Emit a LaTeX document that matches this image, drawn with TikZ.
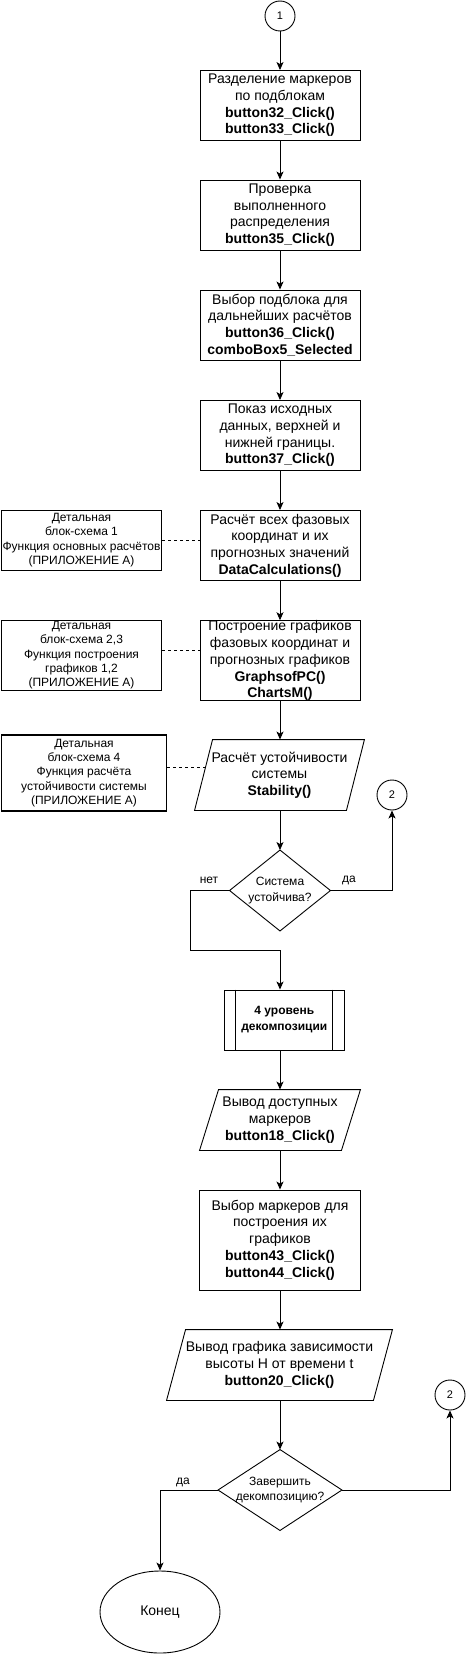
\documentclass[tikz,border=0pt]{standalone}
\usepackage{fontspec}
\setmainfont{Liberation Sans}
\usetikzlibrary{arrows.meta,shapes.geometric,calc}
\begin{document}
\begin{tikzpicture}[x=1pt,y=-1pt,line width=0.9pt,
  arr/.style={-{Stealth[length=8pt,width=7pt,inset=2pt]}},
  dsh/.style={dash pattern=on 3pt off 3pt},
  proc/.style={draw, rectangle, minimum width=160pt, minimum height=70pt, inner sep=0pt, align=center, font=\fontsize{14}{16.7}\selectfont},
  para/.style={rectangle, inner sep=0pt, align=center, font=\fontsize{14}{16.7}\selectfont},
  dia/.style={rectangle, inner sep=0pt, align=center, font=\fontsize{12}{15.5}\selectfont},
  note/.style={draw, rectangle, line width=1.6pt, inner sep=0pt, align=center, font=\fontsize{12}{14.4}\selectfont},
  conn/.style={draw, circle, minimum size=30pt, inner sep=0pt, font=\fontsize{11}{13}\selectfont},
  lbl/.style={inner sep=0pt, font=\fontsize{12}{14}\selectfont}]
\useasboundingbox (0,0) rectangle (467,1654);

% connectors (circles)
\node[conn] (c1) at (280,16) {1};
\node[conn] (c2a) at (392,795) {2};
\node[conn] (c2b) at (450,1395) {2};

% main boxes
\node[proc] (b1) at (280,105.5) {Разделение маркеров\\по подблокам\\\textbf{button32\_Click()}\\\textbf{button33\_Click()}};
\node[proc] (b2) at (280,215) {Проверка\\выполненного\\распределения\\\textbf{button35\_Click()}};
\node[proc] (b3) at (280,325) {Выбор подблока для\\дальнейших расчётов\\\textbf{button36\_Click()}\\\textbf{comboBox5\_Selected}};
\node[proc] (b4) at (280,435.5) {Показ исходных\\данных, верхней и\\нижней границы.\\\textbf{button37\_Click()}};
\node[proc] (b5) at (280,545.5) {Расчёт всех фазовых\\координат и их\\прогнозных значений\\\textbf{DataCalculations()}};
\node[proc, minimum height=80pt] (b6) at (280,660.7) {Построение графиков\\фазовых координат и\\прогнозных графиков\\\textbf{GraphsofPC()}\\\textbf{ChartsM()}};

% parallelogram 1
\node[para, minimum width=151pt, minimum height=70pt] (p1) at (279.5,775) {Расчёт устойчивости\\системы\\\textbf{Stability()}};
\draw ([xshift=9pt]p1.north west) -- ([xshift=9pt]p1.north east) -- ([xshift=-9pt]p1.south east) -- ([xshift=-9pt]p1.south west) -- cycle;
\coordinate (p1l) at ($([xshift=9pt]p1.north west)!0.38!([xshift=-9pt]p1.south west)$);

% diamond 1
\node[dia, minimum width=100pt, minimum height=80pt] (d1) at (280,890.5) {Система\\устойчива?};
\draw (d1.north) -- (d1.east) -- (d1.south) -- (d1.west) -- cycle;

% predefined process
\node[proc, minimum width=120pt, minimum height=60pt, font=\bfseries\fontsize{12}{16}\selectfont] (b8) at (284.3,1020) {4 уровень\\декомпозиции};
\draw ([xshift=12pt]b8.north west) -- ([xshift=12pt]b8.south west);
\draw ([xshift=-12pt]b8.north east) -- ([xshift=-12pt]b8.south east);

% parallelogram 2
\node[para, minimum width=141pt, minimum height=60pt] (p2) at (280,1120) {Вывод доступных\\маркеров\\\textbf{button18\_Click()}};
\draw ([xshift=9.5pt]p2.north west) -- ([xshift=9.5pt]p2.north east) -- ([xshift=-9.5pt]p2.south east) -- ([xshift=-9.5pt]p2.south west) -- cycle;

% box 7
\node[proc, minimum width=161pt, minimum height=100pt] (b7) at (280,1240) {Выбор маркеров для\\построения их\\графиков\\\textbf{button43\_Click()}\\\textbf{button44\_Click()}};

% parallelogram 3
\node[para, minimum width=206pt, minimum height=70pt] (p3) at (279.5,1365) {Вывод графика зависимости\\высоты H от времени t\\\textbf{button20\_Click()}};
\draw ([xshift=9.5pt]p3.north west) -- ([xshift=9.5pt]p3.north east) -- ([xshift=-9.5pt]p3.south east) -- ([xshift=-9.5pt]p3.south west) -- cycle;

% diamond 2
\node[dia, minimum width=123pt, minimum height=80pt] (d2) at (280,1490) {Завершить\\декомпозицию?};
\draw (d2.north) -- (d2.east) -- (d2.south) -- (d2.west) -- cycle;

% end
\node[draw, ellipse, minimum width=120pt, minimum height=82pt, inner sep=0pt, font=\fontsize{14}{16.7}\selectfont] (end) at (160,1612) {Конец};

% notes
\node[note, minimum width=160pt, minimum height=60pt] (L1) at (81.5,540.3) {Детальная\\блок-схема 1\\Функция основных расчётов\\(ПРИЛОЖЕНИЕ А)};
\node[note, minimum width=160pt, minimum height=70pt] (L2) at (81.5,655.3) {Детальная\\блок-схема 2,3\\Функция построения\\графиков 1,2\\(ПРИЛОЖЕНИЕ А)};
\node[note, minimum width=165pt, minimum height=76pt] (L3) at (84,773) {Детальная\\блок-схема 4\\Функция расчёта\\устойчивости системы\\(ПРИЛОЖЕНИЕ А)};

% labels
\node[lbl] (ln) at (209,880) {нет};
\node[lbl] (ly1) at (349,880) {да};
\node[lbl] (ly2) at (183,1482) {да};

% connectors
\draw[arr] (c1.south) -- (b1.north);
\draw[arr] (b1.south) -- (b2.north);
\draw[arr] (b2.south) -- (b3.north);
\draw[arr] (b3.south) -- (b4.north);
\draw[arr] (b4.south) -- (b5.north);
\draw[arr] (b5.south) -- (b6.north);
\draw[arr] (b6.south) -- (b6.south |- p1.north);
\draw[arr] (p1.south -| d1.north) -- (d1.north);
\draw[arr] (d1.east) -| (c2a.south);
\coordinate (n1) at (190,950);
\draw[arr] (d1.west) -| (n1) -| (b8.north -| d1.south);
\draw[arr] (b8.south -| d1.south) -- (p2.north);
\draw[arr] (p2.south) -- (b7.north);
\draw[arr] (b7.south) -- (b7.south |- p3.north);
\draw[arr] (p3.south -| d2.north) -- (d2.north);
\draw[arr] (d2.east) -| (c2b.south);
\draw[arr] (d2.west) -| (end.north);

\draw[dsh] (L1.east) -- (L1.east -| b5.west);
\draw[dsh] ([yshift=5pt]L2.east) -- ([yshift=5pt]L2.east -| b6.west);
\draw[dsh] ([yshift=6pt]L3.east) -- ([yshift=6pt]L3.east -| p1l);
\end{tikzpicture}
\end{document}
